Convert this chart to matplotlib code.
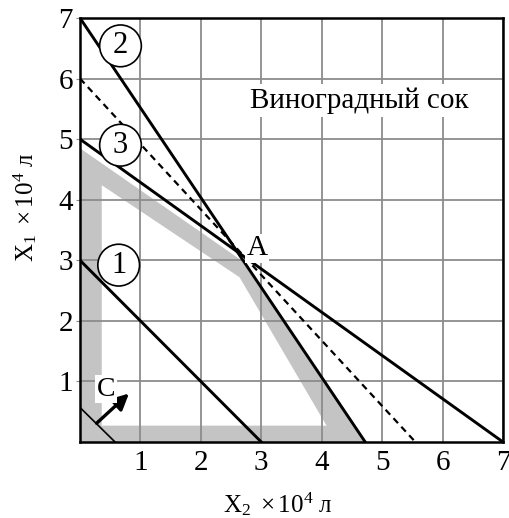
import matplotlib
matplotlib.use('Agg')
import matplotlib.pyplot as plt
from matplotlib.patches import Circle, PathPatch
from matplotlib.path import Path

plt.rcParams['font.family'] = ['Liberation Serif', 'DejaVu Serif']
plt.rcParams['mathtext.fontset'] = 'custom'
plt.rcParams['mathtext.rm'] = 'Liberation Serif'
plt.rcParams['mathtext.it'] = 'Liberation Serif:italic'

# constraint lines: (x2 values, x1 values)
line1_x = [0, 3]
line1_y = [3, 0]
line2_x = [0, 4.72]
line2_y = [7, 0]
line3_x = [0, 7]
line3_y = [5, 0]
objective_x = [0, 5.55]
objective_y = [6, 0]
c_line_x = [0, 0.58]
c_line_y = [0.57, 0]

# shaded border of feasible region
outer_pts = [(0, 0), (0, 4.85), (2.67, 3.0), (4.72, 0)]
inner_pts = [(0.36, 0.27), (4.08, 0.27), (2.64, 2.72), (0.36, 4.24)]

point_a = (2.67, 3.0)
circle_labels = ['1', '2', '3']
circle_pos = [(0.64, 2.92), (0.67, 6.54), (0.67, 4.9)]
ticks = [1, 2, 3, 4, 5, 6, 7]

fig = plt.figure(figsize=(5.1, 5.18), dpi=100)
ax = fig.add_axes([80 / 510, 76 / 518, 423 / 510, 424 / 518])
ax.set_xlim(0, 7)
ax.set_ylim(0, 7)

verts = outer_pts + [outer_pts[0]] + inner_pts + [inner_pts[0]]
codes = ([Path.MOVETO] + [Path.LINETO] * (len(outer_pts) - 1) + [Path.CLOSEPOLY]
         + [Path.MOVETO] + [Path.LINETO] * (len(inner_pts) - 1) + [Path.CLOSEPOLY])
ax.add_patch(PathPatch(Path(verts, codes), facecolor='#c4c4c4', edgecolor='none', zorder=1))

ax.grid(True, color='#8c8c8c', linewidth=1.3)
ax.set_axisbelow('line')

lw = 2.1
ax.plot(line1_x, line1_y, color='black', lw=lw, zorder=3)
ax.plot(line2_x, line2_y, color='black', lw=lw, zorder=3)
ax.plot(line3_x, line3_y, color='black', lw=lw, zorder=3)
ax.plot(objective_x, objective_y, color='black', lw=1.6, ls=(0, (3, 2.2)), zorder=3)
ax.plot(c_line_x, c_line_y, color='black', lw=1.2, zorder=3)

ax.annotate('', xy=(0.81, 0.80), xytext=(0.275, 0.31),
            arrowprops=dict(arrowstyle='-|>', color='black', lw=2.4,
                            mutation_scale=24, shrinkA=0, shrinkB=0), zorder=4)

for lab, (cx, cy) in zip(circle_labels, circle_pos):
    ax.add_patch(Circle((cx, cy), 0.345, facecolor='white', edgecolor='black',
                        lw=1.2, zorder=5))
    ax.text(cx, cy, lab, ha='center', va='center', fontsize=22, zorder=6)

white = dict(facecolor='white', edgecolor='none', pad=1)
ax.text(point_a[0] + 0.26, point_a[1] + 0.2, 'A', ha='center', va='center',
        fontsize=21, bbox=white, zorder=6)
ax.text(0.43, 0.87, 'C', ha='center', va='center', fontsize=20,
        bbox=white, zorder=6)
ax.text(4.63, 5.64, 'Виноградный сок', ha='center', va='center',
        fontsize=21, bbox=dict(facecolor='white', edgecolor='none', pad=2), zorder=6)

ax.set_xticks(ticks)
ax.set_yticks(ticks)
ax.set_xticklabels([str(t) for t in ticks], fontsize=21)
ax.set_yticklabels([str(t) for t in ticks], fontsize=21)
ax.tick_params(axis='x', length=0, pad=6)
ax.tick_params(axis='y', length=3, color='#8c8c8c', pad=2)

for s in ax.spines.values():
    s.set_linewidth(1.8)
    s.set_color('black')
    s.set_zorder(7)

fig.text(278 / 510, 14 / 518, r'$\mathrm{X}_2\ \times 10^4$ л', ha='center',
         va='center', fontsize=18)
fig.text(25 / 510, 1 - 207 / 518, r'$\mathrm{X}_1\ \times 10^4$ л', ha='center',
         va='center', rotation=90, fontsize=18)

fig.savefig('out.png', dpi=100)
